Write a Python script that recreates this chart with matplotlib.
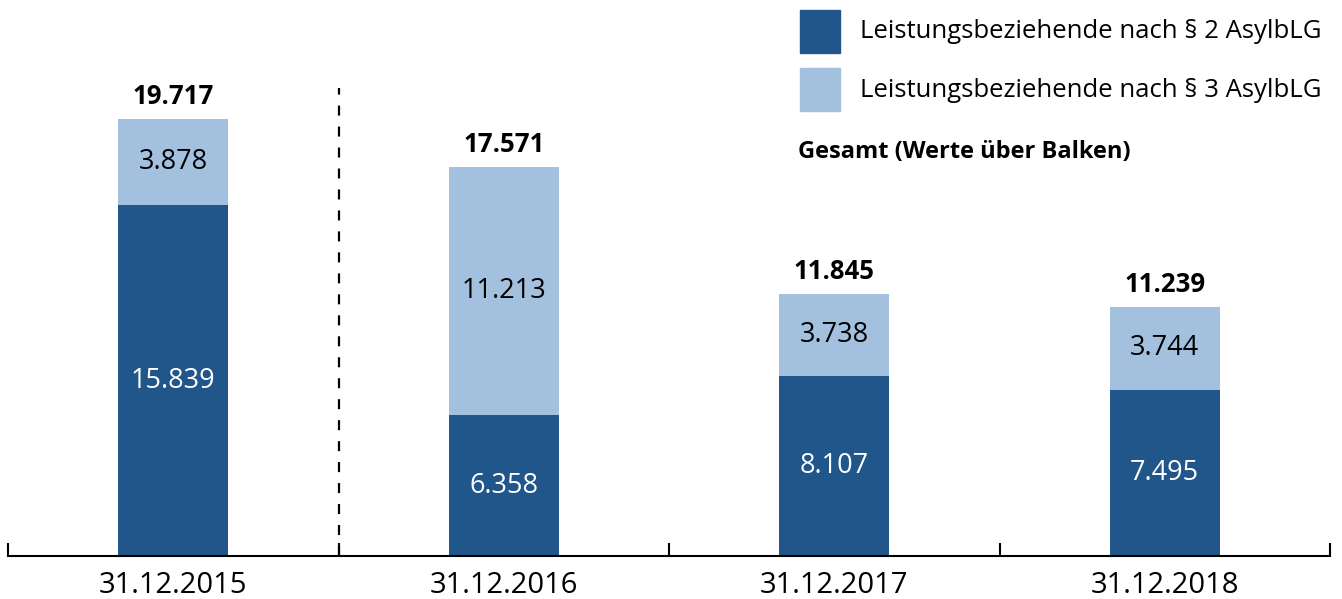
import matplotlib.pyplot as plt
from matplotlib.patches import Rectangle

plt.rcParams['font.family'] = ['Open Sans', 'DejaVu Sans']
plt.rcParams['lines.scale_dashes'] = False

stichtage = ['31.12.2015', '31.12.2016', '31.12.2017', '31.12.2018']
paragraph2 = [15839, 6358, 8107, 7495]
paragraph3 = [3878, 11213, 3738, 3744]
gesamt = [19717, 17571, 11845, 11239]
legende = ['Leistungsbeziehende nach § 2 AsylbLG',
           'Leistungsbeziehende nach § 3 AsylbLG']

dunkel = '#21568a'
hell = '#a3c0de'

W, H = 1342, 599
fig = plt.figure(figsize=(W / 100, H / 100), dpi=100)
ax = fig.add_axes([8/W, 43/H, 1322/W, 556/H])

x = list(range(len(stichtage)))
ax.bar(x, paragraph2, width=0.333, color=dunkel)
ax.bar(x, paragraph3, width=0.333, bottom=paragraph2, color=hell)

def fmt(v):
    return f'{v:,}'.replace(',', '.')

for i in x:
    ax.text(i, paragraph2[i] / 2, fmt(paragraph2[i]), ha='center', va='center',
            color='white', fontsize=19.5)
    ax.text(i, paragraph2[i] + paragraph3[i] / 2, fmt(paragraph3[i]), ha='center',
            va='center', color='black', fontsize=19.5)
    ax.text(i, gesamt[i] + 400, fmt(gesamt[i]), ha='center', va='bottom',
            color='black', fontsize=18.5, fontweight='bold')

# gestrichelte Trennlinie nach 2015
ax.plot([0.5, 0.5], [0, 21120], color='black', lw=1.6, dashes=(7.2, 7.9))

ax.set_xlim(-0.5, 3.5)
ax.set_ylim(0, 25090)
ax.set_yticks([])
for s in ['top', 'right', 'left']:
    ax.spines[s].set_visible(False)
ax.spines['bottom'].set_linewidth(1.5)
ax.set_xticks(x)
ax.set_xticklabels(stichtage, fontsize=21)
ax.tick_params(axis='x', which='major', length=0, pad=11)
ax.set_xticks([-0.5, 0.5, 1.5, 2.5, 3.5], minor=True)
ax.tick_params(axis='x', which='minor', direction='in', length=9.5, width=1.5)

# Legende
for farbe, text, oben in zip([dunkel, hell], legende, [10, 68]):
    fig.add_artist(Rectangle((800/W, 1 - (oben + 43)/H), 40/W, 43/H,
                             transform=fig.transFigure, color=farbe))
    fig.text(860/W, 1 - (oben + 22)/H, text, fontsize=18.5, va='center', ha='left')
fig.text(798/W, 1 - 152/H, 'Gesamt (Werte über Balken)', fontsize=17,
         fontweight='bold', va='center', ha='left')

fig.savefig('out.png', dpi=100)
